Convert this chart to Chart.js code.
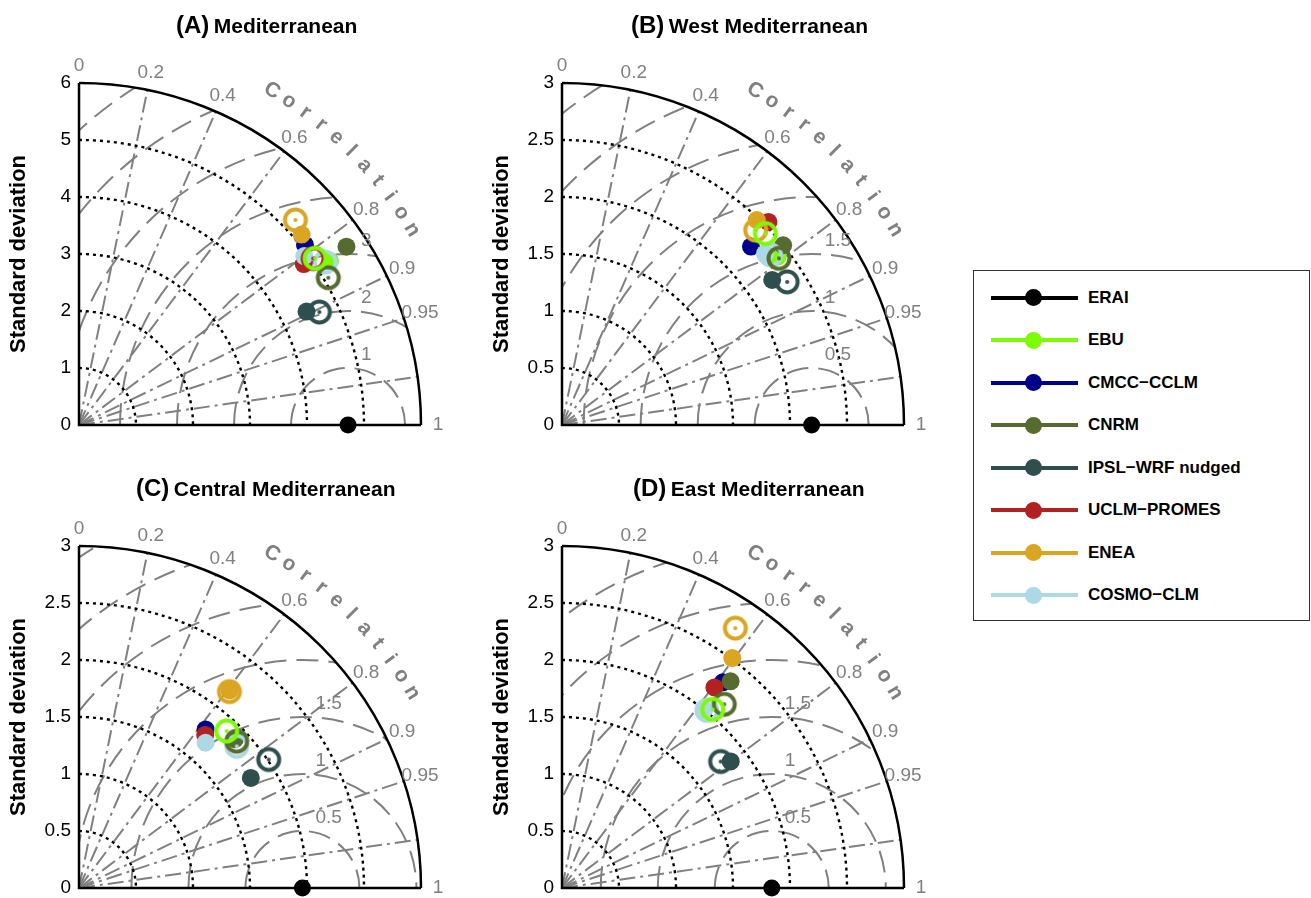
<!DOCTYPE html>
<html>
<head>
<meta charset="utf-8">
<script src="https://cdn.jsdelivr.net/npm/chart.js@4.4.1/dist/chart.umd.min.js"></script>
<style>
body { margin: 0; background: #fff; width: 1311px; height: 898px; position: relative; overflow: hidden;
       font-family: "Liberation Sans", Arial, Helvetica, sans-serif; }
canvas { position: absolute; }
.ttl { position: absolute; font-weight: bold; white-space: nowrap; color: #000; height: 30px; line-height: 30px; }
.ttl .lt { font-size: 24px; }
.ttl .nm { font-size: 21px; }
#legend { position: absolute; left: 973px; top: 270px; width: 335px; height: 349px; border: 1.5px solid #333; }
.lline { position: absolute; left: 17px; width: 87px; height: 4px; }
.ldot { position: absolute; left: 51px; width: 17px; height: 17px; border-radius: 50%; }
.ltxt { position: absolute; left: 114px; font-size: 17px; font-weight: bold; line-height: 20px; white-space: nowrap; }
</style>
</head>
<body>
<canvas id="cA" width="470" height="445" style="left:0px;top:0px"></canvas>
<canvas id="cB" width="470" height="445" style="left:483px;top:0px"></canvas>
<canvas id="cC" width="470" height="445" style="left:0px;top:463px"></canvas>
<canvas id="cD" width="470" height="445" style="left:483px;top:463px"></canvas>
<div id="legend"></div>
<script>
// models and colours (legend order after ERAI)
var models = ['EBU', 'CMCC-CCLM', 'CNRM', 'IPSL-WRF nudged', 'UCLM-PROMES', 'ENEA', 'COSMO-CLM'];
var colors = ['#7CFC00', '#00008B', '#556B2F', '#2F4F4F', '#B22222', '#DAA520', '#ADD8E6'];

var panelLetters = ['(A)', '(B)', '(C)', '(D)'];
var panelTitles = ['Mediterranean', 'West Mediterranean', 'Central Mediterranean', 'East Mediterranean'];

// axis setup per panel
var maxStd = [6, 3, 3, 3];
var stdStep = [1, 0.5, 0.5, 0.5];
var rmsStep = [1, 0.5, 0.5, 0.5];
var refStd = [4.72, 2.19, 1.96, 1.84];   // ERAI
var corrTicks = [0.2, 0.4, 0.6, 0.8, 0.9, 0.95, 0.99];
var corrLabels = [0, 0.2, 0.4, 0.6, 0.8, 0.9, 0.95, 1];
var rmsLabels = [[1, 2, 3], [0.5, 1, 1.5], [0.5, 1, 1.5], [0.5, 1, 1.5]];

// filled markers (1) and ring markers (2): std dev and correlation, same order as models
var stdA1 = [5.26, 5.07, 5.64, 4.46, 4.85, 5.14, 4.94];
var corA1 = [0.837, 0.782, 0.832, 0.895, 0.813, 0.760, 0.800];
var stdA2 = [5.07, null, 5.08, 4.66, 5.04, 5.23, 5.18];
var corA2 = [0.817, null, 0.861, 0.905, 0.815, 0.726, 0.834];

var stdB1 = [2.40, 2.28, 2.50, 2.24, 2.54, 2.48, 2.33];
var corB1 = [0.788, 0.727, 0.776, 0.823, 0.713, 0.689, 0.764];
var stdB2 = [2.45, null, 2.40, 2.34, null, 2.41, 2.36];
var corB2 = [0.728, null, 0.793, 0.844, null, 0.705, 0.775];

var stdC1 = [null, 1.78, 1.89, 1.79, 1.74, 2.18, 1.69];
var corC1 = [null, 0.624, 0.723, 0.842, 0.636, 0.606, 0.657];
var stdC2 = [1.89, null, 1.89, 2.01, null, 2.17, 1.86];
var corC2 = [0.685, null, 0.732, 0.828, null, 0.608, 0.744];

var stdD1 = [null, 2.29, 2.34, 1.85, 2.21, 2.51, 2.00];
var corD1 = [null, 0.616, 0.632, 0.800, 0.605, 0.595, 0.623];
var stdD2 = [2.05, null, 2.15, 1.78, null, 2.74, 2.01];
var corD2 = [0.645, null, 0.662, 0.782, null, 0.555, 0.632];

var filledStd = [stdA1, stdB1, stdC1, stdD1];
var filledCor = [corA1, corB1, corC1, corD1];
var ringStd = [stdA2, stdB2, stdC2, stdD2];
var ringCor = [corA2, corB2, corC2, corD2];

var GRAY = '#808080';
var FONT = '"Liberation Sans", Arial, Helvetica, sans-serif';
Chart.defaults.font.family = FONT;

function toXY(s, c) {
    return {x: s * c, y: s * Math.sqrt(1 - c * c)};
}

function ringImage(color) {
    var c = document.createElement('canvas');
    c.width = 30; c.height = 30;
    var g = c.getContext('2d');
    g.strokeStyle = color;
    g.lineWidth = 4;
    g.beginPath(); g.arc(15, 15, 10.5, 0, 2 * Math.PI); g.stroke();
    g.fillStyle = color;
    g.beginPath(); g.arc(15, 15, 2, 0, 2 * Math.PI); g.fill();
    return c;
}

// taylor grid: rms arcs, correlation rays, std arcs, frame and labels
var taylorGrid = {
    id: 'taylorGrid',
    beforeDatasetsDraw: function(chart, args, opts) {
        var p = opts.panel;
        var ctx = chart.ctx, xs = chart.scales.x, ys = chart.scales.y;
        var R = maxStd[p], ref = refStd[p];
        var ox = xs.getPixelForValue(0), oy = ys.getPixelForValue(0);
        var unit = (xs.getPixelForValue(R) - ox) / R;
        var rpx = R * unit;
        var rx = xs.getPixelForValue(ref);

        ctx.save();
        ctx.beginPath();
        ctx.moveTo(ox, oy);
        ctx.arc(ox, oy, rpx, 0, -Math.PI / 2, true);
        ctx.closePath();
        ctx.clip();

        // centred RMS difference
        ctx.strokeStyle = GRAY;
        ctx.lineWidth = 2;
        ctx.setLineDash([22, 10]);
        for (var r = rmsStep[p]; r < ref + R; r += rmsStep[p]) {
            ctx.beginPath();
            ctx.arc(rx, oy, r * unit, Math.PI, 2 * Math.PI);
            ctx.stroke();
        }
        // correlation rays
        ctx.setLineDash([16, 5, 3, 5]);
        for (var i = 0; i < corrTicks.length; i++) {
            var c = corrTicks[i], sn = Math.sqrt(1 - c * c);
            ctx.beginPath();
            ctx.moveTo(ox, oy);
            ctx.lineTo(ox + rpx * c, oy - rpx * sn);
            ctx.stroke();
        }
        // std dev arcs
        ctx.strokeStyle = '#000';
        ctx.lineWidth = 2.4;
        ctx.setLineDash([3, 4]);
        for (var s = stdStep[p]; s < R - 1e-9; s += stdStep[p]) {
            ctx.beginPath();
            ctx.arc(ox, oy, s * unit, -Math.PI / 2, 0);
            ctx.stroke();
        }
        ctx.restore();

        // frame
        ctx.save();
        ctx.strokeStyle = '#000';
        ctx.lineWidth = 2.5;
        ctx.beginPath();
        ctx.arc(ox, oy, rpx, -Math.PI / 2, 0);
        ctx.stroke();
        ctx.beginPath();
        ctx.moveTo(ox, oy - rpx);
        ctx.lineTo(ox, oy);
        ctx.lineTo(ox + rpx, oy);
        ctx.stroke();

        // correlation tick labels
        ctx.fillStyle = GRAY;
        ctx.font = '19px ' + FONT;
        ctx.textAlign = 'center';
        ctx.textBaseline = 'middle';
        for (var j = 0; j < corrLabels.length; j++) {
            var cl = corrLabels[j], sl = Math.sqrt(1 - cl * cl), rr = rpx + 17;
            ctx.fillText(String(cl), ox + rr * cl, oy - rr * sl);
        }
        // rms labels
        ctx.textAlign = 'left';
        for (var k = 0; k < rmsLabels[p].length; k++) {
            var v = rmsLabels[p][k];
            ctx.fillText(String(v), rx + 13, oy - v * unit - 13);
        }
        // curved "Correlation"
        ctx.font = 'bold 21px ' + FONT;
        ctx.textAlign = 'center';
        var word = 'Correlation';
        for (var m = 0; m < word.length; m++) {
            var ang = (60 - m * 2.96) * Math.PI / 180, rc = rpx + 44;
            ctx.save();
            ctx.translate(ox + rc * Math.cos(ang), oy - rc * Math.sin(ang));
            ctx.rotate(Math.PI / 2 - ang);
            ctx.fillText(word[m], 0, 0);
            ctx.restore();
        }
        ctx.restore();
    }
};

function buildDatasets(p) {
    var painted = [];
    painted.push({
        data: [{x: refStd[p], y: 0}],
        pointRadius: 8.5, pointBackgroundColor: '#000', pointBorderWidth: 0, clip: false
    });
    for (var i = 0; i < models.length; i++) {
        if (filledStd[p][i] == null) continue;
        painted.push({
            label: models[i],
            data: [toXY(filledStd[p][i], filledCor[p][i])],
            pointRadius: 9, pointBackgroundColor: colors[i], pointBorderWidth: 0, clip: false
        });
    }
    for (var j = models.length - 1; j >= 0; j--) {
        if (ringStd[p][j] == null) continue;
        painted.push({
            label: models[j],
            data: [toXY(ringStd[p][j], ringCor[p][j])],
            pointStyle: ringImage(colors[j]), pointRadius: 10, clip: false
        });
    }
    // chart.js paints dataset 0 last
    return painted.reverse();
}

var canvasIds = ['cA', 'cB', 'cC', 'cD'];
var charts = [];
for (var p = 0; p < 4; p++) {
    charts.push(new Chart(document.getElementById(canvasIds[p]), {
        type: 'scatter',
        data: {datasets: buildDatasets(p)},
        plugins: [taylorGrid],
        options: {
            responsive: false,
            animation: false,
            events: [],
            layout: {padding: {left: 0, top: 83, right: 49, bottom: 20}},
            plugins: {
                legend: {display: false},
                tooltip: {enabled: false},
                taylorGrid: {panel: p}
            },
            scales: {
                x: {type: 'linear', min: 0, max: maxStd[p], display: false},
                y: {
                    type: 'linear', min: 0, max: maxStd[p],
                    afterFit: function(scale) { scale.width = 79; },
                    grid: {display: false, drawTicks: false},
                    border: {display: false},
                    ticks: {stepSize: stdStep[p], color: '#000', font: {size: 19}, padding: 8,
                            callback: function(v) { return String(Math.round(v * 100) / 100); }},
                    title: {display: true, text: 'Standard deviation', color: '#000',
                            font: {size: 22, weight: 'bold'}, padding: {top: 6}}
                }
            }
        }
    }));
}

// panel titles
var titleLeft = [176, 631, 136, 633];
var titleTop = [10, 10, 473, 473];
for (var t = 0; t < 4; t++) {
    var d = document.createElement('div');
    d.className = 'ttl';
    d.style.left = titleLeft[t] + 'px';
    d.style.top = titleTop[t] + 'px';
    d.innerHTML = '<span class="lt">' + panelLetters[t] + '</span> <span class="nm">' + panelTitles[t] + '</span>';
    document.body.appendChild(d);
}

// legend
var legendNames = ['ERAI'].concat(models);
var legendColors = ['#000'].concat(colors);
var legend = document.getElementById('legend');
for (var n = 0; n < legendNames.length; n++) {
    var cy = 26.7 + n * 42.5;
    var ln = document.createElement('div');
    ln.className = 'lline';
    ln.style.top = (cy - 2) + 'px';
    ln.style.background = legendColors[n];
    var dt = document.createElement('div');
    dt.className = 'ldot';
    dt.style.top = (cy - 8.5) + 'px';
    dt.style.background = legendColors[n];
    var tx = document.createElement('div');
    tx.className = 'ltxt';
    tx.style.top = (cy - 10) + 'px';
    tx.textContent = legendNames[n].replace('-', '\u2212');
    legend.appendChild(ln);
    legend.appendChild(dt);
    legend.appendChild(tx);
}
</script>
</body>
</html>
